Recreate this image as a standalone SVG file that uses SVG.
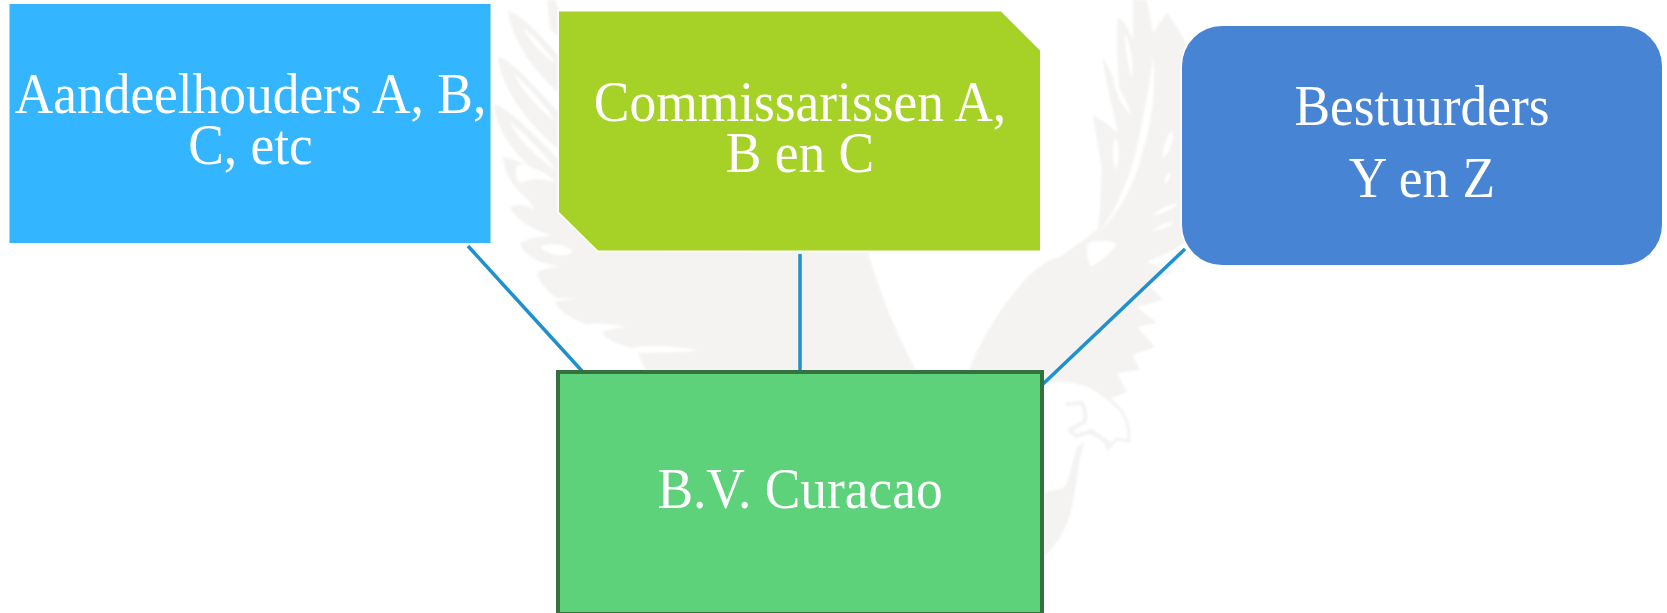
<svg xmlns="http://www.w3.org/2000/svg" width="1667" height="613" viewBox="0 0 1667 613">
<defs><filter id="soft" x="-5%" y="-5%" width="110%" height="110%"><feGaussianBlur stdDeviation="0.9"/></filter></defs>
<style>
.e{fill:#f4f3f2}
.h{fill:#fff}
.s{fill:none;stroke:#f4f3f2;stroke-linecap:round;stroke-linejoin:round}
.c{stroke:#1f90cf;stroke-width:3.5;fill:none}
.halo{stroke:#fff;stroke-width:3;paint-order:stroke}
text{font-family:"Liberation Serif","Times New Roman",serif;font-size:53.4px;fill:#fff;text-anchor:middle}
</style>
<rect width="1667" height="613" fill="#fff"/>
<g id="watermark" filter="url(#soft)">
<path class="e" d="M547,0 L556,0 L565,40 L550,30Z"/>
<path class="e" d="M508,11 C520,13 542,36 562,60 L562,96 C536,74 512,42 508,11Z"/>
<path class="e" d="M498,57 C510,58 534,86 562,116 L562,152 C532,128 502,92 498,57Z"/>
<path class="e" d="M494,105 C508,106 534,136 562,162 L562,195 C532,172 497,140 494,105Z"/>
<path class="e" d="M503,157 C516,158 540,174 562,190 L562,222 C530,204 505,186 503,157Z"/>
<path class="h" d="M523,28 C534,36 548,52 556,64 C542,54 530,42 523,28Z"/>
<path class="h" d="M514,74 C526,84 544,104 556,122 C540,110 522,92 514,74Z"/>
<path class="h" d="M510,122 C522,132 542,150 556,170 C538,158 518,140 510,122Z"/>
<path class="h" d="M517,165 C530,164 546,172 556,182 C540,178 526,178 520,186 C516,180 515,172 517,165Z"/>
<path class="e" d="M515,180 C530,186 550,198 570,215 L598,250 L868,252 C885,310 905,350 917,372 L647,372 C642,364 640,358 638,353 C660,352 680,353 698,350 C670,346 650,344 632,348 C615,344 604,338 603,332 C612,328 620,328 627,327 C610,324 592,322 587,325 C570,318 557,310 555,302 C562,300 570,300 578,299 C566,298 557,298 557,298 C545,290 538,280 537,273 C545,268 552,267 560,267 L540,262 C528,256 521,250 520,243 C530,238 540,236 552,236 C535,230 518,222 510,208 C516,202 528,206 535,210 C530,200 520,190 515,180Z"/>
<path class="h" d="M540,247 C550,242 566,244 573,251 C570,257 552,258 540,247Z"/>
<path class="e" d="M968,372 C980,340 1000,310 1020,285 C1035,268 1050,258 1060,257 L1097,230 C1101,215 1100,190 1102,170 L1093,115 C1103,120 1112,128 1118,133 C1112,105 1105,80 1103,57 C1110,68 1116,85 1120,100 C1118,70 1116,40 1118,17 C1124,22 1128,28 1133,40 L1133,0 L1147,0 L1153,33 L1167,13 L1177,27 L1190,50 L1190,240 L1173,250 L1147,262 L1173,273 L1147,283 L1163,300 L1137,307 L1157,323 L1137,327 L1155,347 L1133,355 L1140,370 L1117,373 L1127,392 L1107,400 C1095,388 1075,380 1055,382 L1043,386 L1043,372Z"/>
<path class="h" d="M1153,57 C1157,90 1150,130 1143,150 C1135,185 1120,210 1100,232 C1117,208 1130,178 1138,142 C1144,112 1150,85 1153,57Z"/>
<path class="h" d="M1125,33 C1130,45 1134,60 1132,78 C1128,66 1125,50 1125,33Z"/>
<path class="h" d="M1113,78 C1120,90 1130,105 1131,116 C1122,106 1115,92 1113,78Z"/>
<path class="h" d="M1115,137 C1120,145 1120,158 1116,170 C1112,160 1112,148 1115,137Z"/>
<path class="h" d="M1172,130 C1175,140 1170,152 1163,158 C1162,148 1166,138 1172,130Z"/>
<path class="h" d="M1170,172 C1172,176 1168,182 1164,184 C1164,180 1166,175 1170,172Z"/>
<path class="h" d="M1178,204 C1172,210 1160,214 1152,216 C1158,210 1168,204 1178,204Z"/>
<path class="h" d="M1174,222 C1168,228 1158,230 1152,231 C1158,226 1166,222 1174,222Z"/>
<path class="h" d="M1088,243 C1098,240 1108,240 1117,244 C1110,254 1100,262 1091,267 C1087,260 1086,250 1088,243Z"/>
<path class="s" stroke-width="4" d="M1067,404 L1082,403 C1086,410 1086,418 1084,422 L1070,430 L1076,436 L1092,431 L1108,443"/>
<path class="s" stroke-width="3" d="M1102,392 L1112,402 C1124,410 1130,425 1129,441 L1116,439 L1108,449 L1106,441 L1091,433"/>
<path class="e" d="M1043,493 C1050,490 1060,490 1065,487 C1070,478 1072,460 1077,448 C1080,444 1083,443 1085,443 C1078,455 1078,480 1072,507 C1068,525 1058,545 1043,557Z"/>
</g>
<g id="connectors">
<line class="c" x1="468" y1="246" x2="582" y2="371"/>
<line class="c" x1="800" y1="254" x2="800" y2="371"/>
<line class="c" x1="1043" y1="384" x2="1185" y2="249"/>
</g>
<g id="node-aandeelhouders">
<rect class="halo" x="9.5" y="4" width="481" height="239" fill="#33b5ff"/>
<text transform="translate(250.5 113) scale(1 1.06)">Aandeelhouders A, B,</text>
<text transform="translate(250.5 164) scale(1 1.06)">C, etc</text>
</g>
<g id="node-commissarissen">
<path class="halo" d="M559,11.5 H1001 L1040,50.5 V250.5 H598 L559,212Z" fill="#a6d228"/>
<text transform="translate(800 120.5) scale(1 1.06)">Commissarissen A,</text>
<text transform="translate(800 171.5) scale(1 1.06)">B en C</text>
</g>
<g id="node-bestuurders">
<rect class="halo" x="1182" y="26" width="480" height="239" rx="40" fill="#4884d4"/>
<text transform="translate(1422 124.5) scale(1 1.06)">Bestuurders</text>
<text transform="translate(1422 196.5) scale(1 1.06)">Y en Z</text>
</g>
<g id="node-bv">
<rect x="558" y="372" width="484" height="242" fill="#5dd27a" stroke="#35703f" stroke-width="4"/>
<text transform="translate(800 508) scale(1 1.06)">B.V. Curacao</text>
</g>
</svg>
